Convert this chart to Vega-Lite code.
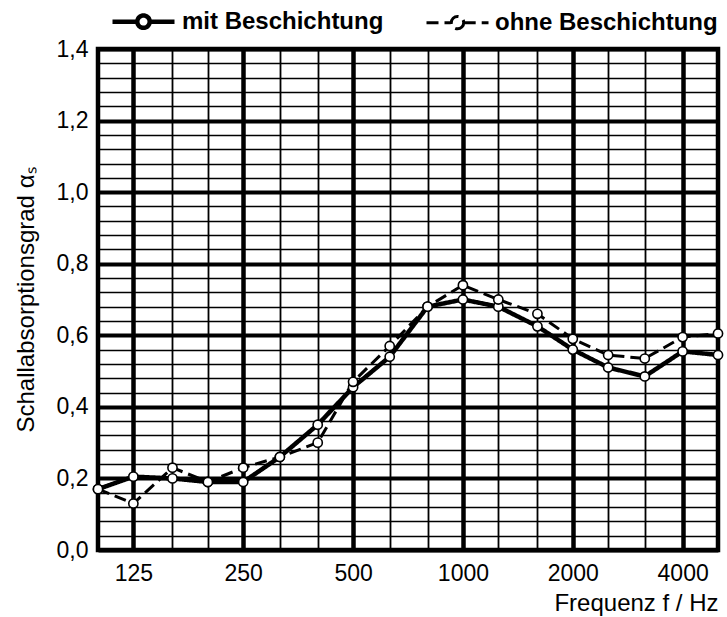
{
  "$schema": "https://vega.github.io/schema/vega-lite/v6.json",
  "autosize": "none",
  "padding": {"left": 98, "top": 49, "right": 9, "bottom": 67},
  "width": 620,
  "height": 501,
  "background": "white",
  "config": {
    "font": "Liberation Sans",
    "view": {"stroke": "black", "strokeWidth": 4.5},
    "axis": {"labelFont": "Liberation Sans", "titleFont": "Liberation Sans", "labelColor": "black", "titleColor": "black", "titleFontWeight": "normal"}
  },
  "data": {
    "values": [
      {"f": 100, "a": 0.17, "s": "mit Beschichtung"},
      {"f": 125, "a": 0.205, "s": "mit Beschichtung"},
      {"f": 160, "a": 0.2, "s": "mit Beschichtung"},
      {"f": 200, "a": 0.19, "s": "mit Beschichtung"},
      {"f": 250, "a": 0.19, "s": "mit Beschichtung"},
      {"f": 315, "a": 0.26, "s": "mit Beschichtung"},
      {"f": 400, "a": 0.35, "s": "mit Beschichtung"},
      {"f": 500, "a": 0.455, "s": "mit Beschichtung"},
      {"f": 630, "a": 0.54, "s": "mit Beschichtung"},
      {"f": 800, "a": 0.68, "s": "mit Beschichtung"},
      {"f": 1000, "a": 0.70, "s": "mit Beschichtung"},
      {"f": 1250, "a": 0.68, "s": "mit Beschichtung"},
      {"f": 1600, "a": 0.625, "s": "mit Beschichtung"},
      {"f": 2000, "a": 0.56, "s": "mit Beschichtung"},
      {"f": 2500, "a": 0.51, "s": "mit Beschichtung"},
      {"f": 3150, "a": 0.485, "s": "mit Beschichtung"},
      {"f": 4000, "a": 0.555, "s": "mit Beschichtung"},
      {"f": 5000, "a": 0.545, "s": "mit Beschichtung"},
      {"f": 100, "a": 0.17, "s": "ohne Beschichtung"},
      {"f": 125, "a": 0.13, "s": "ohne Beschichtung"},
      {"f": 160, "a": 0.23, "s": "ohne Beschichtung"},
      {"f": 200, "a": 0.19, "s": "ohne Beschichtung"},
      {"f": 250, "a": 0.23, "s": "ohne Beschichtung"},
      {"f": 315, "a": 0.26, "s": "ohne Beschichtung"},
      {"f": 400, "a": 0.30, "s": "ohne Beschichtung"},
      {"f": 500, "a": 0.47, "s": "ohne Beschichtung"},
      {"f": 630, "a": 0.57, "s": "ohne Beschichtung"},
      {"f": 800, "a": 0.68, "s": "ohne Beschichtung"},
      {"f": 1000, "a": 0.74, "s": "ohne Beschichtung"},
      {"f": 1250, "a": 0.70, "s": "ohne Beschichtung"},
      {"f": 1600, "a": 0.66, "s": "ohne Beschichtung"},
      {"f": 2000, "a": 0.59, "s": "ohne Beschichtung"},
      {"f": 2500, "a": 0.545, "s": "ohne Beschichtung"},
      {"f": 3150, "a": 0.535, "s": "ohne Beschichtung"},
      {"f": 4000, "a": 0.595, "s": "ohne Beschichtung"},
      {"f": 5000, "a": 0.605, "s": "ohne Beschichtung"}
    ]
  },
  "encoding": {
    "x": {
      "field": "f", "type": "quantitative",
      "scale": {"type": "log", "domain": [100, 5000], "nice": false},
      "axis": {
        "title": "Frequenz f / Hz",
        "titleFontSize": 24,
        "titleAnchor": "end",
        "titlePadding": 6,
        "values": [100, 125, 160, 200, 250, 315, 400, 500, 630, 800, 1000, 1250, 1600, 2000, 2500, 3150, 4000, 5000],
        "labelExpr": "indexof([125,250,500,1000,2000,4000], datum.value) >= 0 ? format(datum.value, 'd') : ''",
        "labelFontSize": 23,
        "labelPadding": 12,
        "labelFlush": false,
        "labelOverlap": false,
        "ticks": false,
        "domain": false,
        "grid": true,
        "gridColor": "black",
        "gridOpacity": 1,
        "gridWidth": {"condition": {"test": "indexof([125,250,500,1000,2000,4000], datum.value) >= 0", "value": 4.5}, "value": 1.8}
      }
    },
    "y": {
      "field": "a", "type": "quantitative",
      "scale": {"domain": [0, 1.4], "nice": false, "zero": false},
      "axis": {
        "title": "Schallabsorptionsgrad αₛ",
        "titleFontSize": 24,
        "titlePadding": 18,
        "values": [0, 0.04, 0.08, 0.12, 0.16, 0.2, 0.24, 0.28, 0.32, 0.36, 0.4, 0.44, 0.48, 0.52, 0.56, 0.6, 0.64, 0.68, 0.72, 0.76, 0.8, 0.84, 0.88, 0.92, 0.96, 1.0, 1.04, 1.08, 1.12, 1.16, 1.2, 1.24, 1.28, 1.32, 1.36, 1.4],
        "labelExpr": "abs(datum.value / 0.2 - round(datum.value / 0.2)) < 0.01 ? replace(format(datum.value, '.1f'), '.', ',') : ''",
        "labelFontSize": 23,
        "labelPadding": 10,
        "labelFlush": false,
        "labelOverlap": false,
        "ticks": false,
        "domain": false,
        "grid": true,
        "gridColor": "black",
        "gridOpacity": 1,
        "gridWidth": {"condition": {"test": "abs(datum.value / 0.2 - round(datum.value / 0.2)) < 0.01", "value": 4}, "value": 1.6}
      }
    }
  },
  "layer": [
    {
      "mark": {"type": "line", "color": "black", "strokeCap": "butt", "strokeJoin": "round"},
      "encoding": {
        "strokeDash": {
          "field": "s", "type": "nominal",
          "scale": {"domain": ["mit Beschichtung", "ohne Beschichtung"], "range": [[1, 0], [12, 6]]},
          "legend": {
            "title": null,
            "orient": "none",
            "direction": "horizontal",
            "legendX": 12,
            "legendY": -61,
            "symbolSize": 3844,
            "symbolType": "M-1,0H-0.2M0.2,0H1M0.2,0A0.2,0.2 0 1 1 -0.2,0A0.2,0.2 0 1 1 0.2,0Z",
            "labelFont": "Liberation Sans",
            "labelFontSize": 24,
            "labelFontWeight": "bold",
            "labelColor": "black",
            "labelOffset": 5,
            "columnPadding": 36,
            "labelLimit": 400
          }
        },
        "strokeWidth": {
          "field": "s", "type": "nominal",
          "scale": {"domain": ["mit Beschichtung", "ohne Beschichtung"], "range": [4.5, 3]},
          "legend": null
        }
      }
    },
    {
      "mark": {"type": "point", "shape": "circle", "filled": true, "fill": "white", "stroke": "black", "strokeWidth": 1.6, "size": 85, "opacity": 1},
      "encoding": {
        "detail": {"field": "s", "type": "nominal"}
      }
    }
  ]
}
